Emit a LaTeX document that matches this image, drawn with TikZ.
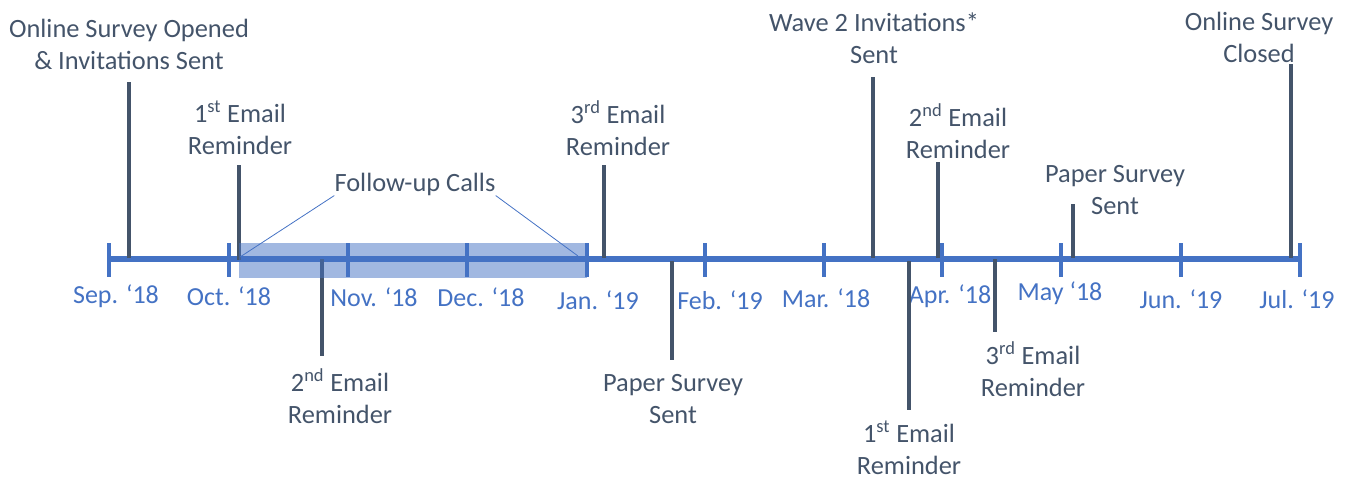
\documentclass[tikz,border=0pt]{standalone}
\usepackage{fontspec}
\setmainfont{Carlito}
\definecolor{axblue}{HTML}{4472C4}
\definecolor{evdark}{HTML}{44546A}
\begin{document}
\begin{tikzpicture}[x=0.75pt,y=-0.75pt,
  lbl/.style={text=evdark,align=center,inner sep=0pt,font=\fontsize{19.8}{24}\selectfont},
  mon/.style={text=axblue,inner sep=0pt,font=\fontsize{19.5}{24}\selectfont},
  evline/.style={draw=evdark,line width=3pt},
  tickline/.style={draw=axblue,line width=3.6pt},
  leader/.style={draw=axblue,line width=0.6pt}]
\useasboundingbox (0,0) rectangle (1349,476);
% axis
\coordinate (a0) at (107,259);
\coordinate (a1) at (1302,259);
\draw[draw=axblue,line width=4.5pt] (a0) -- (a1);
% ticks and months
\foreach \x/\name/\lx/\ly/\txt in {109/sep/116/296/Sep. ‘18, 229/oct/229/296/Oct. ‘18, 348/nov/374/297/Nov. ‘18, 467/dec/481/297/Dec. ‘18, 587/jan/598/300/Jan. ‘19, 705/feb/720/300/Feb. ‘19, 824/mar/826/298/Mar. ‘18, 942/apr/950/296/Apr. ‘18, 1061/may/1060/293/May ‘18, 1181/jun/1181/299/Jun. ‘19, 1300/jul/1297/299/Jul. ‘19}{
  \coordinate (t\name a) at (\x,243);
  \coordinate (t\name b) at (\x,277);
  \draw[tickline] (t\name a) -- (t\name b);
  \node[mon] (m\name) at (\lx,\ly) {\txt};
}
% event lines
\foreach \n/\x/\ya/\yb in {e1/129/82/258, e2/239/165/260, e3/322/259/356, e4/604/165/258, e5/672/261/360, e6/873/77/258, e7/909/261/410, e8/938/162/258, e9/995/259/332, e10/1073/204/258, e11/1291/64/258}{
  \coordinate (\n a) at (\x,\ya);
  \coordinate (\n b) at (\x,\yb);
  \draw[evline] (\n a) -- (\n b);
}
% follow-up shading
\fill[axblue,fill opacity=0.5] (239,243) rectangle (587,278);
% labels
\node[lbl] (l1) at (129,44) {Online Survey Opened\\\& Invitations Sent};
\node[lbl] (l2) at (240,128) {1\textsuperscript{st} Email\\Reminder};
\node[lbl] (l3) at (340,396) {2\textsuperscript{nd} Email\\Reminder};
\node[lbl] (l4) at (618,128) {3\textsuperscript{rd} Email\\Reminder};
\node[lbl] (l5) at (673,399) {Paper Survey\\Sent};
\node[lbl] (l6) at (874,38) {Wave 2 Invitations*\\Sent};
\node[lbl] (l7) at (909,448) {1\textsuperscript{st} Email\\Reminder};
\node[lbl] (l8) at (958,131) {2\textsuperscript{nd} Email\\Reminder};
\node[lbl] (l9) at (1033,369) {3\textsuperscript{rd} Email\\Reminder};
\node[lbl] (l10) at (1115,190) {Paper Survey\\Sent};
\node[lbl] (l11) at (1259,37) {Online Survey\\Closed};
\node[lbl] (fc) at (415,184) {Follow-up Calls};
\coordinate (fcl) at (240,257);
\coordinate (fcr) at (578,256);
\draw[leader] (fc.south west) -- (fcl);
\draw[leader] (fc.south east) -- (fcr);
\end{tikzpicture}
\end{document}
